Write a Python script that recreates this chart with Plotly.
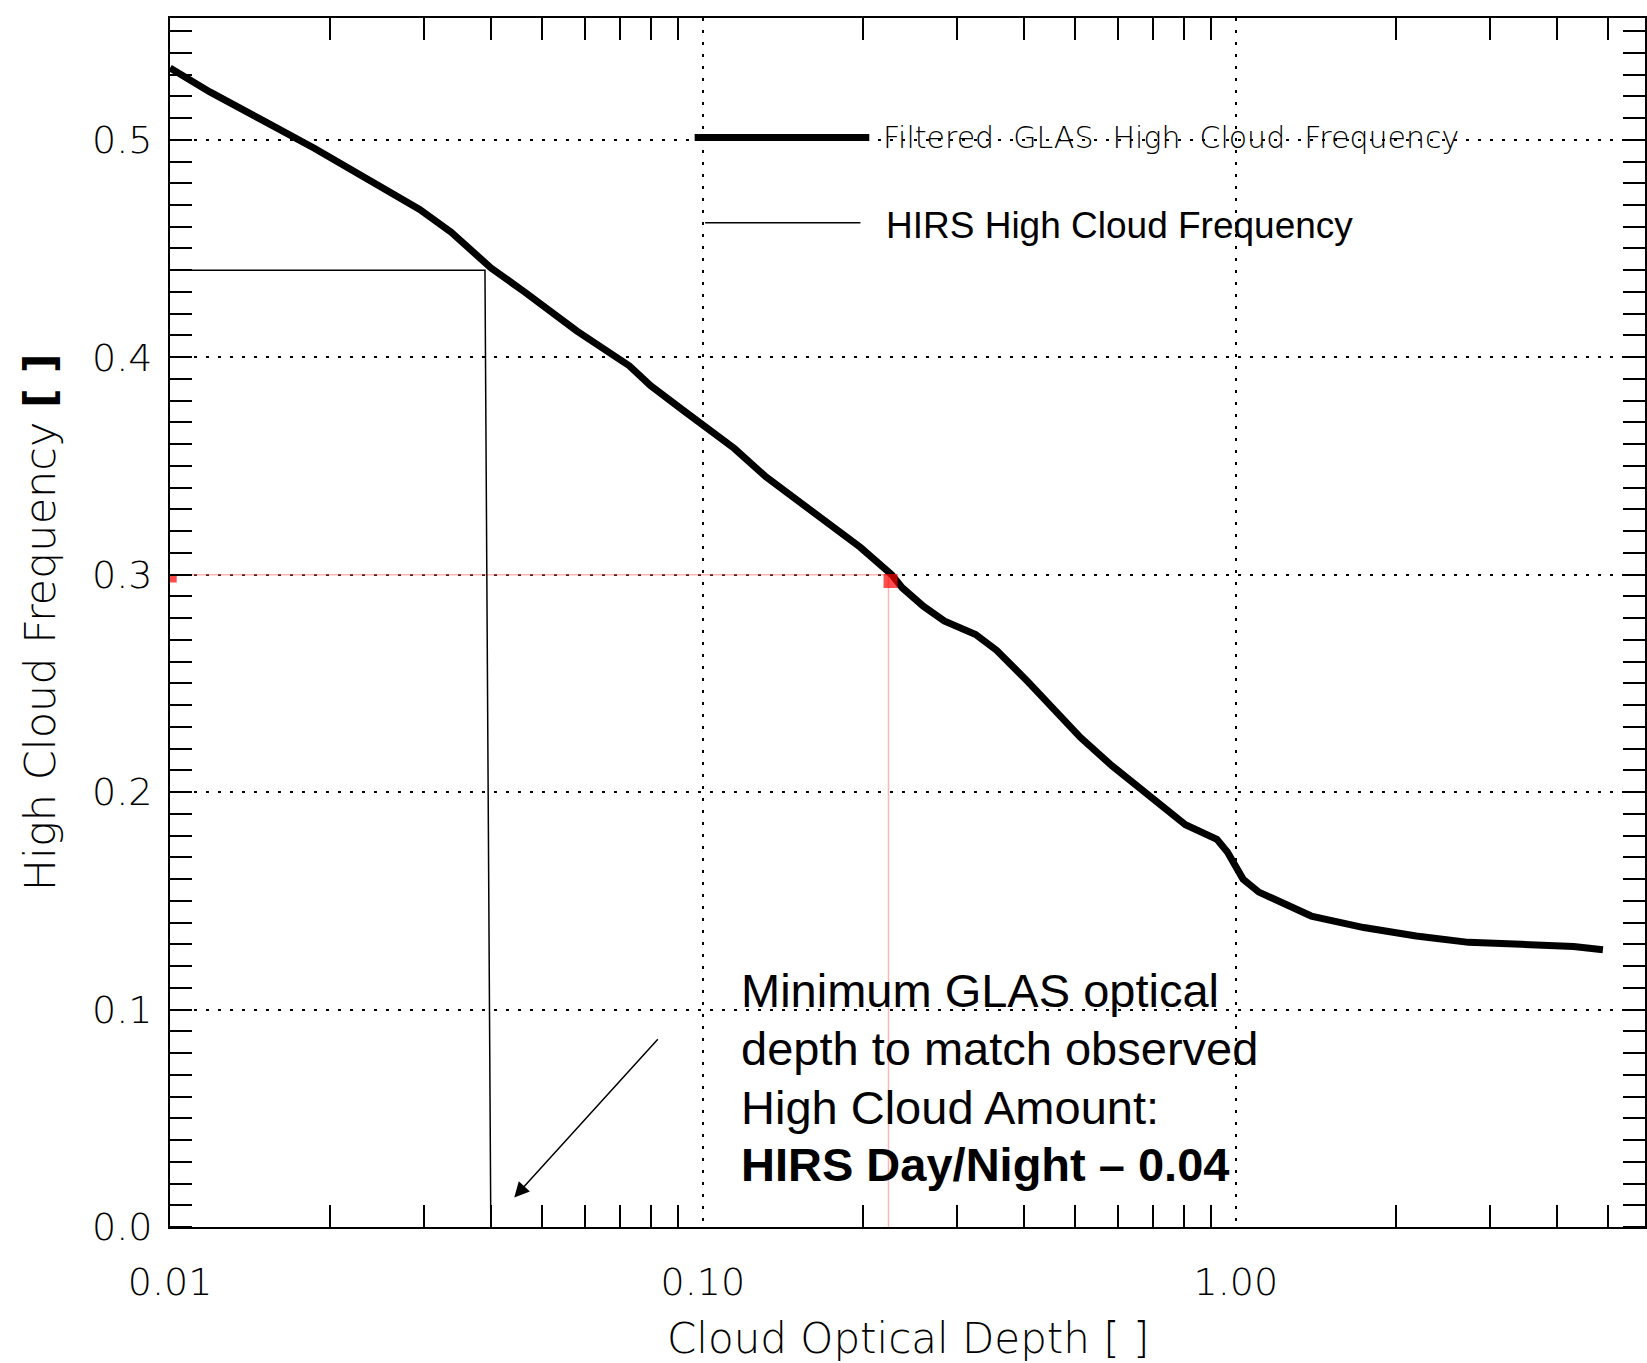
import plotly.graph_objects as go

# ---- data ----
glas_tau = [0.0100, 0.01188, 0.01490, 0.01869, 0.02345, 0.02941, 0.03370, 0.04004,
            0.04629, 0.05805, 0.07282, 0.07973, 0.09134, 0.1000, 0.1146, 0.1313,
            0.1504, 0.1723, 0.1974, 0.2261, 0.2366, 0.2592, 0.2837, 0.3250,
            0.3558, 0.4076, 0.4464, 0.5114, 0.5858, 0.7024, 0.8045, 0.9218,
            0.9645, 1.032, 1.105, 1.386, 1.739, 2.181, 2.735, 3.431, 4.305, 4.887]
glas_freq = [0.533, 0.522, 0.509, 0.496, 0.482, 0.468, 0.4575, 0.441,
             0.430, 0.412, 0.396, 0.387, 0.376, 0.369, 0.358, 0.345,
             0.334, 0.323, 0.3126, 0.300, 0.294, 0.2855, 0.2787, 0.2725,
             0.2652, 0.2507, 0.240, 0.2251, 0.2121, 0.1966, 0.185, 0.1783,
             0.1725, 0.160, 0.154, 0.143, 0.1377, 0.1338, 0.1309, 0.130, 0.129, 0.1275]

hirs_tau = [0.01, 0.039, 0.040]
hirs_freq = [0.44, 0.44, 0.0]

match_tau = [0.01, 0.223, 0.223]
match_freq = [0.30, 0.30, 0.0]

red_mark_tau = [0.01014, 0.225]
red_mark_freq = [0.298, 0.2971]

x_tickvals = [0.01, 0.1, 1.0]
x_ticktext = ["0.01", "0.10", "1.00"]
x_minor_vals = [0.02, 0.03, 0.04, 0.05, 0.06, 0.07, 0.08, 0.09,
                0.2, 0.3, 0.4, 0.5, 0.6, 0.7, 0.8, 0.9, 2, 3, 4, 5]
y_tickvals = [0.0, 0.1, 0.2, 0.3, 0.4, 0.5]
y_ticktext = ["0.0", "0.1", "0.2", "0.3", "0.4", "0.5"]

legend_labels = ["Filtered  GLAS  High  Cloud  Frequency", "HIRS High Cloud Frequency"]
note_lines = ["Minimum GLAS optical", "depth to match observed",
              "High Cloud Amount:", "<b>HIRS Day/Night – 0.04</b>"]

HERSHEY = "DejaVu Sans, sans-serif"
ARIAL = "Liberation Sans, Arial, sans-serif"

fig = go.Figure()

fig.add_trace(go.Scatter(x=match_tau, y=match_freq, mode="lines",
                         line=dict(color="rgba(255,120,120,0.55)", width=1.5),
                         hoverinfo="skip", showlegend=False))
fig.add_trace(go.Scatter(x=hirs_tau, y=hirs_freq, mode="lines",
                         line=dict(color="black", width=1.5),
                         showlegend=False))
fig.add_trace(go.Scatter(x=glas_tau, y=glas_freq, mode="lines",
                         line=dict(color="black", width=7),
                         showlegend=False))
fig.add_trace(go.Scatter(x=red_mark_tau, y=red_mark_freq, mode="markers",
                         marker=dict(color="red", symbol="square", size=[7, 14],
                                     line=dict(width=0)),
                         showlegend=False, cliponaxis=False))

shapes = [
    dict(type="line", xref="paper", yref="paper", x0=0.3557, x1=0.4741, y0=0.9011, y1=0.9011,
         line=dict(color="black", width=7)),
    dict(type="line", xref="paper", yref="paper", x0=0.3628, x1=0.4681, y0=0.8307, y1=0.8307,
         line=dict(color="black", width=1.5)),
]

annotations = [
    dict(text=legend_labels[0].replace("  ", "\u00a0\u00a0"), xref="paper", yref="paper",
         x=0.482, y=0.9011,
         xanchor="left", yanchor="middle", showarrow=False,
         font=dict(family=HERSHEY, size=30, color="black", weight=200)),
    dict(text=legend_labels[1], xref="paper", yref="paper", x=0.4844, y=0.8285,
         xanchor="left", yanchor="middle", showarrow=False,
         font=dict(family=ARIAL, size=37, color="black")),
    dict(text="", xref="paper", yref="paper", x=0.2334, y=0.0244,
         ax=144.9, ay=-159.7, axref="pixel", ayref="pixel",
         showarrow=True, arrowhead=2, arrowsize=2, arrowwidth=1.5, arrowcolor="black"),
    dict(text="High Cloud Frequency <b>[ ]</b>", xref="paper", yref="paper",
         x=-0.088, y=0.5004, textangle=-90, xanchor="center", yanchor="middle",
         showarrow=False, font=dict(family=HERSHEY, size=43, color="black", weight=200)),
    dict(text="Cloud Optical Depth [ ]", xref="paper", yref="paper",
         x=0.5003, y=-0.0926, xanchor="center", yanchor="middle",
         showarrow=False, font=dict(family=HERSHEY, size=42, color="black", weight=200)),
]
note_y = [0.1956, 0.1478, 0.0992, 0.0514]
for txt, yy in zip(note_lines, note_y):
    annotations.append(dict(text=txt, xref="paper", yref="paper", x=0.3856, y=yy,
                            xanchor="left", yanchor="middle", showarrow=False,
                            font=dict(family=ARIAL, size=47, color="black")))

fig.update_layout(
    width=1647, height=1363,
    margin=dict(l=170, r=0, t=18, b=136),
    paper_bgcolor="white", plot_bgcolor="white",
    shapes=shapes, annotations=annotations,
    showlegend=False,
)

fig.update_xaxes(
    type="log", range=[-2, 0.768],
    tickmode="array", tickvals=x_tickvals, ticktext=x_ticktext,
    ticks="", showgrid=True, gridcolor="black", gridwidth=2, griddash="3px,9px",
    showline=True, linecolor="black", linewidth=2, mirror="allticks",
    tickfont=dict(family=HERSHEY, size=38, color="black", weight=200),
    ticklabelstandoff=20,
    zeroline=False,
    minor=dict(tickmode="array", tickvals=x_minor_vals, ticks="inside",
               ticklen=22, tickwidth=2, tickcolor="black", showgrid=False),
)
fig.update_yaxes(
    range=[0, 0.556],
    tickmode="array", tickvals=y_tickvals, ticktext=y_ticktext,
    ticks="", showgrid=True, gridcolor="black", gridwidth=2, griddash="3px,9px",
    showline=True, linecolor="black", linewidth=2, mirror="allticks",
    tickfont=dict(family=HERSHEY, size=38, color="black", weight=200),
    ticklabelstandoff=8,
    zeroline=False,
    minor=dict(dtick=0.01, tick0=0, ticks="inside",
               ticklen=22, tickwidth=2, tickcolor="black", showgrid=False),
)

fig.write_html("out.html")
